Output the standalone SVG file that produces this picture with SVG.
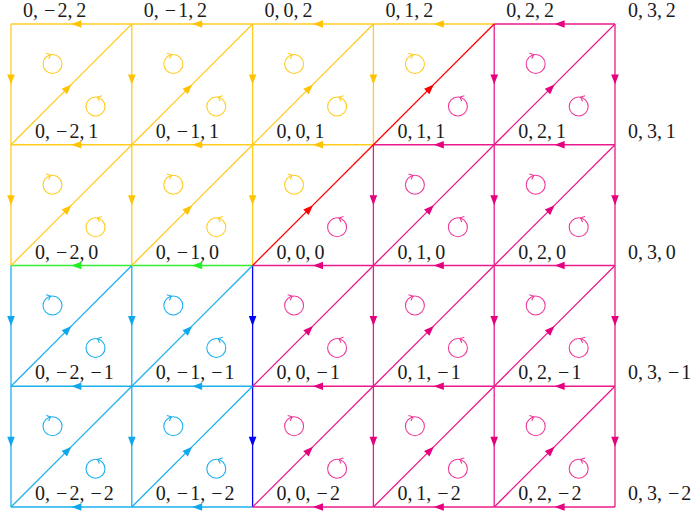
<svg xmlns="http://www.w3.org/2000/svg" xmlns:xlink="http://www.w3.org/1999/xlink" width="691" height="517" viewBox="0 0 691 517">
<style>
.e{fill:none;stroke-width:1.3}
.y{stroke:#FFCC1F;marker-mid:url(#ay)}
.m{stroke:#EB1A8C;marker-mid:url(#am)}
.c{stroke:#1BB0EE;marker-mid:url(#ac)}
.g{stroke:#33EE33;marker-mid:url(#ag)}
.r{stroke:#FF0000;marker-mid:url(#ar)}
.b{stroke:#0000FF;marker-mid:url(#ab)}
.cy{stroke:#FFCC1F}.cm{stroke:#EE3A9A}.cc{stroke:#1BB0EE}
.lp use{fill:none;stroke-width:1.1}
text{font-family:"Liberation Serif","Times New Roman",serif;font-size:20px;fill:#1a1a1a}
</style>
<defs>
<marker id="ay" markerUnits="userSpaceOnUse" markerWidth="12" markerHeight="10" viewBox="0 0 12 10" refX="11" refY="5" orient="auto"><path d="M1,1.2 L11,5 L1,8.8 Z" fill="#FFC400"/></marker>
<marker id="am" markerUnits="userSpaceOnUse" markerWidth="12" markerHeight="10" viewBox="0 0 12 10" refX="11" refY="5" orient="auto"><path d="M1,1.2 L11,5 L1,8.8 Z" fill="#E5007E"/></marker>
<marker id="ac" markerUnits="userSpaceOnUse" markerWidth="12" markerHeight="10" viewBox="0 0 12 10" refX="11" refY="5" orient="auto"><path d="M1,1.2 L11,5 L1,8.8 Z" fill="#10A8EC"/></marker>
<marker id="ag" markerUnits="userSpaceOnUse" markerWidth="12" markerHeight="10" viewBox="0 0 12 10" refX="11" refY="5" orient="auto"><path d="M1,1.2 L11,5 L1,8.8 Z" fill="#22EE22"/></marker>
<marker id="ar" markerUnits="userSpaceOnUse" markerWidth="12" markerHeight="10" viewBox="0 0 12 10" refX="11" refY="5" orient="auto"><path d="M1,1.2 L11,5 L1,8.8 Z" fill="#FF0000"/></marker>
<marker id="ab" markerUnits="userSpaceOnUse" markerWidth="12" markerHeight="10" viewBox="0 0 12 10" refX="11" refY="5" orient="auto"><path d="M1,1.2 L11,5 L1,8.8 Z" fill="#0000FF"/></marker>
<g id="cw"><circle r="9.5"/><path d="M-3.5,-3 L0,0 L-3.5,3" transform="translate(-2,-9.5) rotate(-25)"/></g>
<g id="ccw"><circle r="9.5"/><path d="M3.5,-3 L0,0 L3.5,3" transform="translate(2,-9.5) rotate(25)"/></g>
</defs>
<g id="connectors">
<path class="e y" d="M131.8,24 L71.4,24 L11,24"/>
<path class="e y" d="M252.6,24 L192.2,24 L131.8,24"/>
<path class="e y" d="M373.4,24 L313,24 L252.6,24"/>
<path class="e y" d="M494.2,24 L433.8,24 L373.4,24"/>
<path class="e m" d="M615,24 L554.6,24 L494.2,24"/>
<path class="e y" d="M131.8,144.75 L71.4,144.75 L11,144.75"/>
<path class="e y" d="M252.6,144.75 L192.2,144.75 L131.8,144.75"/>
<path class="e y" d="M373.4,144.75 L313,144.75 L252.6,144.75"/>
<path class="e m" d="M494.2,144.75 L433.8,144.75 L373.4,144.75"/>
<path class="e m" d="M615,144.75 L554.6,144.75 L494.2,144.75"/>
<path class="e g" d="M131.8,265.5 L71.4,265.5 L11,265.5"/>
<path class="e g" d="M252.6,265.5 L192.2,265.5 L131.8,265.5"/>
<path class="e m" d="M373.4,265.5 L313,265.5 L252.6,265.5"/>
<path class="e m" d="M494.2,265.5 L433.8,265.5 L373.4,265.5"/>
<path class="e m" d="M615,265.5 L554.6,265.5 L494.2,265.5"/>
<path class="e c" d="M131.8,386.25 L71.4,386.25 L11,386.25"/>
<path class="e c" d="M252.6,386.25 L192.2,386.25 L131.8,386.25"/>
<path class="e m" d="M373.4,386.25 L313,386.25 L252.6,386.25"/>
<path class="e m" d="M494.2,386.25 L433.8,386.25 L373.4,386.25"/>
<path class="e m" d="M615,386.25 L554.6,386.25 L494.2,386.25"/>
<path class="e c" d="M131.8,507 L71.4,507 L11,507"/>
<path class="e c" d="M252.6,507 L192.2,507 L131.8,507"/>
<path class="e m" d="M373.4,507 L313,507 L252.6,507"/>
<path class="e m" d="M494.2,507 L433.8,507 L373.4,507"/>
<path class="e m" d="M615,507 L554.6,507 L494.2,507"/>
<path class="e y" d="M11,24 L11,84.375 L11,144.75"/>
<path class="e y" d="M11,144.75 L11,205.125 L11,265.5"/>
<path class="e c" d="M11,265.5 L11,325.875 L11,386.25"/>
<path class="e c" d="M11,386.25 L11,446.625 L11,507"/>
<path class="e y" d="M131.8,24 L131.8,84.375 L131.8,144.75"/>
<path class="e y" d="M131.8,144.75 L131.8,205.125 L131.8,265.5"/>
<path class="e c" d="M131.8,265.5 L131.8,325.875 L131.8,386.25"/>
<path class="e c" d="M131.8,386.25 L131.8,446.625 L131.8,507"/>
<path class="e y" d="M252.6,24 L252.6,84.375 L252.6,144.75"/>
<path class="e y" d="M252.6,144.75 L252.6,205.125 L252.6,265.5"/>
<path class="e b" d="M252.6,265.5 L252.6,325.875 L252.6,386.25"/>
<path class="e b" d="M252.6,386.25 L252.6,446.625 L252.6,507"/>
<path class="e y" d="M373.4,24 L373.4,84.375 L373.4,144.75"/>
<path class="e m" d="M373.4,144.75 L373.4,205.125 L373.4,265.5"/>
<path class="e m" d="M373.4,265.5 L373.4,325.875 L373.4,386.25"/>
<path class="e m" d="M373.4,386.25 L373.4,446.625 L373.4,507"/>
<path class="e m" d="M494.2,24 L494.2,84.375 L494.2,144.75"/>
<path class="e m" d="M494.2,144.75 L494.2,205.125 L494.2,265.5"/>
<path class="e m" d="M494.2,265.5 L494.2,325.875 L494.2,386.25"/>
<path class="e m" d="M494.2,386.25 L494.2,446.625 L494.2,507"/>
<path class="e m" d="M615,24 L615,84.375 L615,144.75"/>
<path class="e m" d="M615,144.75 L615,205.125 L615,265.5"/>
<path class="e m" d="M615,265.5 L615,325.875 L615,386.25"/>
<path class="e m" d="M615,386.25 L615,446.625 L615,507"/>
<path class="e y" d="M11,144.75 L71.4,84.375 L131.8,24"/>
<path class="e y" d="M131.8,144.75 L192.2,84.375 L252.6,24"/>
<path class="e y" d="M252.6,144.75 L313,84.375 L373.4,24"/>
<path class="e m" d="M494.2,144.75 L554.6,84.375 L615,24"/>
<path class="e y" d="M11,265.5 L71.4,205.125 L131.8,144.75"/>
<path class="e y" d="M131.8,265.5 L192.2,205.125 L252.6,144.75"/>
<path class="e m" d="M373.4,265.5 L433.8,205.125 L494.2,144.75"/>
<path class="e m" d="M494.2,265.5 L554.6,205.125 L615,144.75"/>
<path class="e c" d="M11,386.25 L71.4,325.875 L131.8,265.5"/>
<path class="e c" d="M131.8,386.25 L192.2,325.875 L252.6,265.5"/>
<path class="e m" d="M252.6,386.25 L313,325.875 L373.4,265.5"/>
<path class="e m" d="M373.4,386.25 L433.8,325.875 L494.2,265.5"/>
<path class="e m" d="M494.2,386.25 L554.6,325.875 L615,265.5"/>
<path class="e c" d="M11,507 L71.4,446.625 L131.8,386.25"/>
<path class="e c" d="M131.8,507 L192.2,446.625 L252.6,386.25"/>
<path class="e m" d="M252.6,507 L313,446.625 L373.4,386.25"/>
<path class="e m" d="M373.4,507 L433.8,446.625 L494.2,386.25"/>
<path class="e m" d="M494.2,507 L554.6,446.625 L615,386.25"/>
<path class="e r" d="M373.4,144.75 L433.8,84.375 L494.2,24"/>
<path class="e r" d="M252.6,265.5 L313,205.125 L373.4,144.75"/>
</g>
<g id="loops" class="lp">
<use href="#cw" class="cy" x="52.5" y="64"/><use href="#ccw" class="cy" x="95.5" y="106.5"/>
<use href="#cw" class="cy" x="173.3" y="64"/><use href="#ccw" class="cy" x="216.3" y="106.5"/>
<use href="#cw" class="cy" x="294.1" y="64"/><use href="#ccw" class="cy" x="337.1" y="106.5"/>
<use href="#cw" class="cy" x="414.9" y="64"/><use href="#ccw" class="cm" x="457.9" y="106.5"/>
<use href="#cw" class="cm" x="535.7" y="64"/><use href="#ccw" class="cm" x="578.7" y="106.5"/>
<use href="#cw" class="cy" x="52.5" y="184.75"/><use href="#ccw" class="cy" x="95.5" y="227.25"/>
<use href="#cw" class="cy" x="173.3" y="184.75"/><use href="#ccw" class="cy" x="216.3" y="227.25"/>
<use href="#cw" class="cy" x="294.1" y="184.75"/><use href="#ccw" class="cm" x="337.1" y="227.25"/>
<use href="#cw" class="cm" x="414.9" y="184.75"/><use href="#ccw" class="cm" x="457.9" y="227.25"/>
<use href="#cw" class="cm" x="535.7" y="184.75"/><use href="#ccw" class="cm" x="578.7" y="227.25"/>
<use href="#cw" class="cc" x="52.5" y="305.5"/><use href="#ccw" class="cc" x="95.5" y="348"/>
<use href="#cw" class="cc" x="173.3" y="305.5"/><use href="#ccw" class="cc" x="216.3" y="348"/>
<use href="#cw" class="cm" x="294.1" y="305.5"/><use href="#ccw" class="cm" x="337.1" y="348"/>
<use href="#cw" class="cm" x="414.9" y="305.5"/><use href="#ccw" class="cm" x="457.9" y="348"/>
<use href="#cw" class="cm" x="535.7" y="305.5"/><use href="#ccw" class="cm" x="578.7" y="348"/>
<use href="#cw" class="cc" x="52.5" y="426.25"/><use href="#ccw" class="cc" x="95.5" y="468.75"/>
<use href="#cw" class="cc" x="173.3" y="426.25"/><use href="#ccw" class="cc" x="216.3" y="468.75"/>
<use href="#cw" class="cm" x="294.1" y="426.25"/><use href="#ccw" class="cm" x="337.1" y="468.75"/>
<use href="#cw" class="cm" x="414.9" y="426.25"/><use href="#ccw" class="cm" x="457.9" y="468.75"/>
<use href="#cw" class="cm" x="535.7" y="426.25"/><use href="#ccw" class="cm" x="578.7" y="468.75"/>
</g>
<g id="v-m2-2"><text x="23" y="17">0,<tspan dx="6">−</tspan><tspan dx="2.1">2</tspan>,<tspan dx="3.9">2</tspan></text></g>
<g id="v-m1-2"><text x="143.8" y="17">0,<tspan dx="6">−</tspan><tspan dx="2.1">1</tspan>,<tspan dx="3.9">2</tspan></text></g>
<g id="v-0-2"><text x="264.6" y="17">0,<tspan dx="3.9">0</tspan>,<tspan dx="3.9">2</tspan></text></g>
<g id="v-1-2"><text x="385.4" y="17">0,<tspan dx="3.9">1</tspan>,<tspan dx="3.9">2</tspan></text></g>
<g id="v-2-2"><text x="506.2" y="17">0,<tspan dx="3.9">2</tspan>,<tspan dx="3.9">2</tspan></text></g>
<g id="v-3-2"><text x="628" y="17">0,<tspan dx="3.9">3</tspan>,<tspan dx="3.9">2</tspan></text></g>
<g id="v-m2-1"><text x="35" y="137.75">0,<tspan dx="6">−</tspan><tspan dx="2.1">2</tspan>,<tspan dx="3.9">1</tspan></text></g>
<g id="v-m1-1"><text x="155.8" y="137.75">0,<tspan dx="6">−</tspan><tspan dx="2.1">1</tspan>,<tspan dx="3.9">1</tspan></text></g>
<g id="v-0-1"><text x="276.6" y="137.75">0,<tspan dx="3.9">0</tspan>,<tspan dx="3.9">1</tspan></text></g>
<g id="v-1-1"><text x="397.4" y="137.75">0,<tspan dx="3.9">1</tspan>,<tspan dx="3.9">1</tspan></text></g>
<g id="v-2-1"><text x="518.2" y="137.75">0,<tspan dx="3.9">2</tspan>,<tspan dx="3.9">1</tspan></text></g>
<g id="v-3-1"><text x="628" y="137.75">0,<tspan dx="3.9">3</tspan>,<tspan dx="3.9">1</tspan></text></g>
<g id="v-m2-0"><text x="35" y="258.5">0,<tspan dx="6">−</tspan><tspan dx="2.1">2</tspan>,<tspan dx="3.9">0</tspan></text></g>
<g id="v-m1-0"><text x="155.8" y="258.5">0,<tspan dx="6">−</tspan><tspan dx="2.1">1</tspan>,<tspan dx="3.9">0</tspan></text></g>
<g id="v-0-0"><text x="276.6" y="258.5">0,<tspan dx="3.9">0</tspan>,<tspan dx="3.9">0</tspan></text></g>
<g id="v-1-0"><text x="397.4" y="258.5">0,<tspan dx="3.9">1</tspan>,<tspan dx="3.9">0</tspan></text></g>
<g id="v-2-0"><text x="518.2" y="258.5">0,<tspan dx="3.9">2</tspan>,<tspan dx="3.9">0</tspan></text></g>
<g id="v-3-0"><text x="628" y="258.5">0,<tspan dx="3.9">3</tspan>,<tspan dx="3.9">0</tspan></text></g>
<g id="v-m2-m1"><text x="35" y="379.25">0,<tspan dx="6">−</tspan><tspan dx="2.1">2</tspan>,<tspan dx="6">−</tspan><tspan dx="2.1">1</tspan></text></g>
<g id="v-m1-m1"><text x="155.8" y="379.25">0,<tspan dx="6">−</tspan><tspan dx="2.1">1</tspan>,<tspan dx="6">−</tspan><tspan dx="2.1">1</tspan></text></g>
<g id="v-0-m1"><text x="276.6" y="379.25">0,<tspan dx="3.9">0</tspan>,<tspan dx="6">−</tspan><tspan dx="2.1">1</tspan></text></g>
<g id="v-1-m1"><text x="397.4" y="379.25">0,<tspan dx="3.9">1</tspan>,<tspan dx="6">−</tspan><tspan dx="2.1">1</tspan></text></g>
<g id="v-2-m1"><text x="518.2" y="379.25">0,<tspan dx="3.9">2</tspan>,<tspan dx="6">−</tspan><tspan dx="2.1">1</tspan></text></g>
<g id="v-3-m1"><text x="628" y="379.25">0,<tspan dx="3.9">3</tspan>,<tspan dx="6">−</tspan><tspan dx="2.1">1</tspan></text></g>
<g id="v-m2-m2"><text x="35" y="500">0,<tspan dx="6">−</tspan><tspan dx="2.1">2</tspan>,<tspan dx="6">−</tspan><tspan dx="2.1">2</tspan></text></g>
<g id="v-m1-m2"><text x="155.8" y="500">0,<tspan dx="6">−</tspan><tspan dx="2.1">1</tspan>,<tspan dx="6">−</tspan><tspan dx="2.1">2</tspan></text></g>
<g id="v-0-m2"><text x="276.6" y="500">0,<tspan dx="3.9">0</tspan>,<tspan dx="6">−</tspan><tspan dx="2.1">2</tspan></text></g>
<g id="v-1-m2"><text x="397.4" y="500">0,<tspan dx="3.9">1</tspan>,<tspan dx="6">−</tspan><tspan dx="2.1">2</tspan></text></g>
<g id="v-2-m2"><text x="518.2" y="500">0,<tspan dx="3.9">2</tspan>,<tspan dx="6">−</tspan><tspan dx="2.1">2</tspan></text></g>
<g id="v-3-m2"><text x="628" y="500">0,<tspan dx="3.9">3</tspan>,<tspan dx="6">−</tspan><tspan dx="2.1">2</tspan></text></g>
</svg>
